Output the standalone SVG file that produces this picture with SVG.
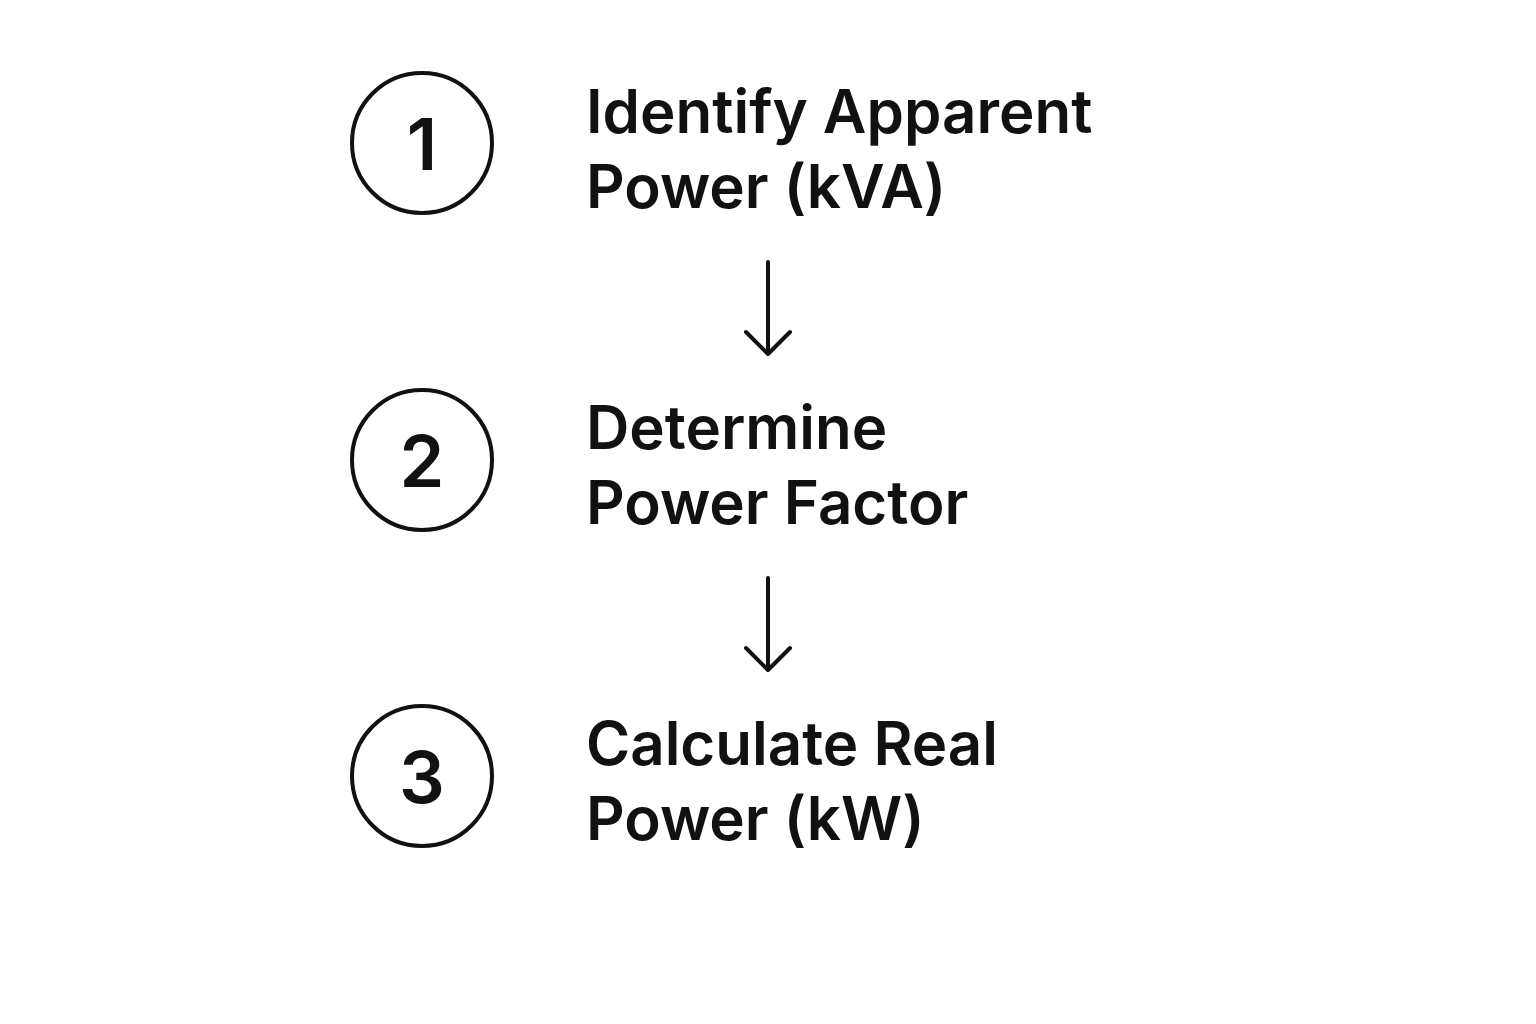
<svg xmlns="http://www.w3.org/2000/svg" width="1536" height="1024" viewBox="0 0 1536 1024">
<style>
.c{fill:none;stroke:#111;stroke-width:4}
.n{font-family:Inter,"Liberation Sans",sans-serif;font-size:72px;font-weight:600;fill:#111;text-anchor:middle}
.t{font-family:Inter,"Liberation Sans",sans-serif;font-size:60px;font-weight:600;fill:#111}
.a{fill:none;stroke:#111;stroke-width:4;stroke-linecap:round;stroke-linejoin:round}
</style>
<rect width="1536" height="1024" fill="#fff"/>
<g id="step1"><circle class="c" cx="422" cy="143" r="70"/><text class="n" x="422" y="170">1</text>
<text class="t" x="586" y="133">Identify Apparent</text><text class="t" x="586" y="208">Power (kVA)</text></g>
<g id="step2"><circle class="c" cx="422" cy="460" r="70"/><text class="n" x="422" y="487">2</text>
<text class="t" x="586" y="449">Determine</text><text class="t" x="586" y="524">Power Factor</text></g>
<g id="step3"><circle class="c" cx="422" cy="776" r="70"/><text class="n" x="422" y="803">3</text>
<text class="t" x="586" y="765">Calculate Real</text><text class="t" x="586" y="840">Power (kW)</text></g>
<g id="connectors">
<path class="a" d="M768 262V354M746 332L768 354L790 332"/>
<path class="a" d="M768 578V670M746 648L768 670L790 648"/>
</g>
</svg>
